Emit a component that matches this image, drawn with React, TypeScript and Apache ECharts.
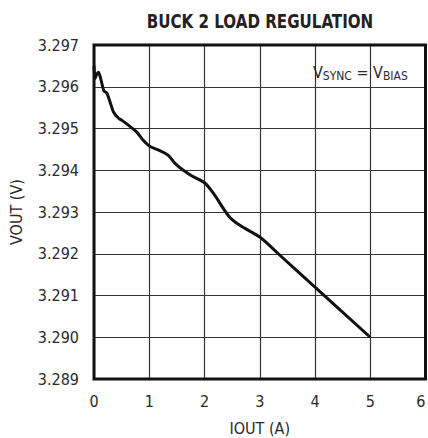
import React, { useEffect, useRef } from "react";
import * as echarts from "echarts";

const iout: number[] = [0, 0.02, 0.05, 0.08, 0.12, 0.18, 0.23, 0.3, 0.35, 0.44, 0.5, 0.65, 0.77, 0.89, 1.0, 1.19, 1.34, 1.5, 1.75, 2.0, 2.16, 2.44, 2.64, 3.0, 3.36, 4.0, 5.0];
const vout: number[] = [3.2965, 3.2962, 3.2963, 3.29635, 3.2962, 3.2959, 3.29585, 3.2956, 3.2954, 3.29525, 3.2952, 3.29505, 3.29492, 3.29472, 3.29458, 3.29447, 3.29436, 3.29412, 3.29388, 3.2937, 3.29345, 3.2929, 3.29268, 3.2924, 3.29197, 3.2912, 3.2900];
const xTicks = { min: 0, max: 6, interval: 1 };
const yTicks = { min: 3.289, max: 3.297, interval: 0.001 };

const FONT = '"DejaVu Sans Condensed", "Liberation Sans", Arial, sans-serif';
const TXT = "#2a2a2a";

export default function App() {
  const ref = useRef<HTMLDivElement>(null);
  useEffect(() => {
    if (!ref.current) return;
    const chart = echarts.init(ref.current, undefined, { renderer: "svg" });
    const data = iout.map((x, i) => [x, vout[i]]);
    chart.setOption({
      animation: false,
      backgroundColor: "#fff",
      grid: { left: 94, right: 2.5, top: 45, bottom: 59, show: true, borderColor: "#111", borderWidth: 3, z: 5, outerBoundsMode: "none", containLabel: false },
      xAxis: {
        type: "value",
        min: xTicks.min,
        max: xTicks.max,
        interval: xTicks.interval,
        axisLine: { show: false },
        axisTick: { show: false },
        splitLine: { show: true, lineStyle: { color: "#333", width: 1.2 } },
        axisLabel: { fontSize: 16, fontFamily: FONT, color: TXT, margin: 14, alignMaxLabel: "right" },
        name: "IOUT (A)",
        nameLocation: "middle",
        nameGap: 41,
        nameTextStyle: { fontSize: 16, fontFamily: FONT, color: TXT },
      },
      yAxis: {
        type: "value",
        min: yTicks.min,
        max: yTicks.max,
        interval: yTicks.interval,
        axisLine: { show: false },
        axisTick: { show: false },
        splitLine: { show: true, lineStyle: { color: "#333", width: 1.2 } },
        axisLabel: { fontSize: 16, fontFamily: FONT, color: TXT, margin: 15, formatter: (v: number) => v.toFixed(3) },
        name: "VOUT (V)",
        nameLocation: "middle",
        nameGap: 70,
        nameTextStyle: { fontSize: 16, fontFamily: FONT, color: TXT },
      },
      series: [
        {
          type: "line",
          data,
          smooth: 0.3,
          showSymbol: false,
          lineStyle: { color: "#111", width: 3 },
          z: 3,
        },
      ],
      graphic: [
        {
          type: "text",
          x: 260,
          y: 21,
          scaleX: 0.84,
          style: {
            text: "BUCK 2 LOAD REGULATION",
            align: "center",
            verticalAlign: "middle",
            fontFamily: FONT,
            fontWeight: "bold",
            fontSize: 20,
            fill: "#222",
          },
        },
        {
          type: "text",
          x: 313,
          y: 72,
          z: 10,
          style: {
            text: "{v|V}{s|SYNC}{v| = V}{s|BIAS}",
            verticalAlign: "middle",
            rich: {
              v: { fontSize: 16, fontFamily: FONT, fill: TXT },
              s: { fontSize: 12, fontFamily: FONT, fill: TXT, padding: [7, 0, 0, 0] },
            },
          },
        },
      ],
    });
    return () => chart.dispose();
  }, []);
  return <div ref={ref} style={{ position: "fixed", left: 0, top: 0, width: 428, height: 438 }} />;
}
